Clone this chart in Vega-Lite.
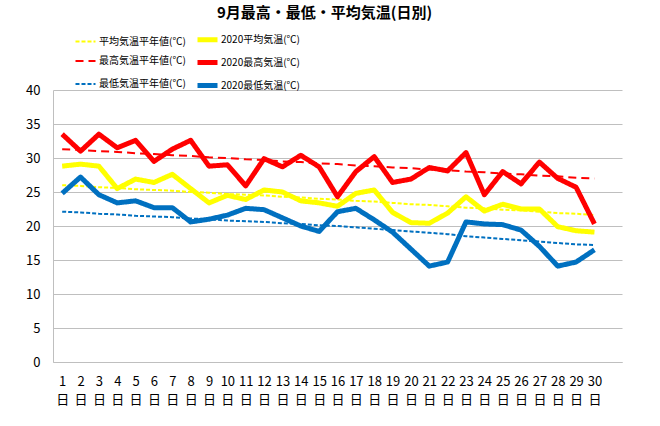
{
  "$schema": "https://vega.github.io/schema/vega-lite/v6.json",
  "width": 569,
  "height": 272,
  "autosize": {"type": "none"},
  "padding": {"left": 53, "top": 90, "right": 38, "bottom": 64},
  "background": "white",
  "config": {
    "view": {"stroke": null},
    "font": "Noto Sans CJK JP"
  },
  "title": {
    "text": "9月最高・最低・平均気温(日別)",
    "anchor": "middle",
    "dx": -13,
    "offset": 6,
    "fontSize": 15,
    "fontWeight": "bold",
    "font": "Noto Sans CJK JP",
    "color": "#000000"
  },
  "data": {
    "values": [
      {"day": 1, "series": "平均気温平年値(℃)", "temp": 26.0},
      {"day": 2, "series": "平均気温平年値(℃)", "temp": 25.9},
      {"day": 3, "series": "平均気温平年値(℃)", "temp": 25.7},
      {"day": 4, "series": "平均気温平年値(℃)", "temp": 25.6},
      {"day": 5, "series": "平均気温平年値(℃)", "temp": 25.4},
      {"day": 6, "series": "平均気温平年値(℃)", "temp": 25.3},
      {"day": 7, "series": "平均気温平年値(℃)", "temp": 25.2},
      {"day": 8, "series": "平均気温平年値(℃)", "temp": 25.0},
      {"day": 9, "series": "平均気温平年値(℃)", "temp": 24.9},
      {"day": 10, "series": "平均気温平年値(℃)", "temp": 24.7},
      {"day": 11, "series": "平均気温平年値(℃)", "temp": 24.6},
      {"day": 12, "series": "平均気温平年値(℃)", "temp": 24.5},
      {"day": 13, "series": "平均気温平年値(℃)", "temp": 24.3},
      {"day": 14, "series": "平均気温平年値(℃)", "temp": 24.2},
      {"day": 15, "series": "平均気温平年値(℃)", "temp": 24.0},
      {"day": 16, "series": "平均気温平年値(℃)", "temp": 23.9},
      {"day": 17, "series": "平均気温平年値(℃)", "temp": 23.7},
      {"day": 18, "series": "平均気温平年値(℃)", "temp": 23.6},
      {"day": 19, "series": "平均気温平年値(℃)", "temp": 23.4},
      {"day": 20, "series": "平均気温平年値(℃)", "temp": 23.2},
      {"day": 21, "series": "平均気温平年値(℃)", "temp": 23.1},
      {"day": 22, "series": "平均気温平年値(℃)", "temp": 22.9},
      {"day": 23, "series": "平均気温平年値(℃)", "temp": 22.7},
      {"day": 24, "series": "平均気温平年値(℃)", "temp": 22.6},
      {"day": 25, "series": "平均気温平年値(℃)", "temp": 22.4},
      {"day": 26, "series": "平均気温平年値(℃)", "temp": 22.3},
      {"day": 27, "series": "平均気温平年値(℃)", "temp": 22.1},
      {"day": 28, "series": "平均気温平年値(℃)", "temp": 21.9},
      {"day": 29, "series": "平均気温平年値(℃)", "temp": 21.8},
      {"day": 30, "series": "平均気温平年値(℃)", "temp": 21.6},
      {"day": 1, "series": "2020平均気温(℃)", "temp": 28.8},
      {"day": 2, "series": "2020平均気温(℃)", "temp": 29.1},
      {"day": 3, "series": "2020平均気温(℃)", "temp": 28.8},
      {"day": 4, "series": "2020平均気温(℃)", "temp": 25.5},
      {"day": 5, "series": "2020平均気温(℃)", "temp": 26.9},
      {"day": 6, "series": "2020平均気温(℃)", "temp": 26.4},
      {"day": 7, "series": "2020平均気温(℃)", "temp": 27.6},
      {"day": 8, "series": "2020平均気温(℃)", "temp": 25.5},
      {"day": 9, "series": "2020平均気温(℃)", "temp": 23.4},
      {"day": 10, "series": "2020平均気温(℃)", "temp": 24.5},
      {"day": 11, "series": "2020平均気温(℃)", "temp": 23.9},
      {"day": 12, "series": "2020平均気温(℃)", "temp": 25.3},
      {"day": 13, "series": "2020平均気温(℃)", "temp": 25.0},
      {"day": 14, "series": "2020平均気温(℃)", "temp": 23.7},
      {"day": 15, "series": "2020平均気温(℃)", "temp": 23.4},
      {"day": 16, "series": "2020平均気温(℃)", "temp": 22.9},
      {"day": 17, "series": "2020平均気温(℃)", "temp": 24.8},
      {"day": 18, "series": "2020平均気温(℃)", "temp": 25.3},
      {"day": 19, "series": "2020平均気温(℃)", "temp": 22.0},
      {"day": 20, "series": "2020平均気温(℃)", "temp": 20.5},
      {"day": 21, "series": "2020平均気温(℃)", "temp": 20.4},
      {"day": 22, "series": "2020平均気温(℃)", "temp": 21.9},
      {"day": 23, "series": "2020平均気温(℃)", "temp": 24.3},
      {"day": 24, "series": "2020平均気温(℃)", "temp": 22.2},
      {"day": 25, "series": "2020平均気温(℃)", "temp": 23.2},
      {"day": 26, "series": "2020平均気温(℃)", "temp": 22.5},
      {"day": 27, "series": "2020平均気温(℃)", "temp": 22.5},
      {"day": 28, "series": "2020平均気温(℃)", "temp": 19.9},
      {"day": 29, "series": "2020平均気温(℃)", "temp": 19.3},
      {"day": 30, "series": "2020平均気温(℃)", "temp": 19.1},
      {"day": 1, "series": "最高気温平年値(℃)", "temp": 31.3},
      {"day": 2, "series": "最高気温平年値(℃)", "temp": 31.2},
      {"day": 3, "series": "最高気温平年値(℃)", "temp": 31.0},
      {"day": 4, "series": "最高気温平年値(℃)", "temp": 30.9},
      {"day": 5, "series": "最高気温平年値(℃)", "temp": 30.7},
      {"day": 6, "series": "最高気温平年値(℃)", "temp": 30.6},
      {"day": 7, "series": "最高気温平年値(℃)", "temp": 30.4},
      {"day": 8, "series": "最高気温平年値(℃)", "temp": 30.3},
      {"day": 9, "series": "最高気温平年値(℃)", "temp": 30.1},
      {"day": 10, "series": "最高気温平年値(℃)", "temp": 30.0},
      {"day": 11, "series": "最高気温平年値(℃)", "temp": 29.8},
      {"day": 12, "series": "最高気温平年値(℃)", "temp": 29.7},
      {"day": 13, "series": "最高気温平年値(℃)", "temp": 29.5},
      {"day": 14, "series": "最高気温平年値(℃)", "temp": 29.4},
      {"day": 15, "series": "最高気温平年値(℃)", "temp": 29.2},
      {"day": 16, "series": "最高気温平年値(℃)", "temp": 29.1},
      {"day": 17, "series": "最高気温平年値(℃)", "temp": 28.9},
      {"day": 18, "series": "最高気温平年値(℃)", "temp": 28.8},
      {"day": 19, "series": "最高気温平年値(℃)", "temp": 28.6},
      {"day": 20, "series": "最高気温平年値(℃)", "temp": 28.5},
      {"day": 21, "series": "最高気温平年値(℃)", "temp": 28.3},
      {"day": 22, "series": "最高気温平年値(℃)", "temp": 28.2},
      {"day": 23, "series": "最高気温平年値(℃)", "temp": 28.0},
      {"day": 24, "series": "最高気温平年値(℃)", "temp": 27.9},
      {"day": 25, "series": "最高気温平年値(℃)", "temp": 27.7},
      {"day": 26, "series": "最高気温平年値(℃)", "temp": 27.6},
      {"day": 27, "series": "最高気温平年値(℃)", "temp": 27.4},
      {"day": 28, "series": "最高気温平年値(℃)", "temp": 27.3},
      {"day": 29, "series": "最高気温平年値(℃)", "temp": 27.1},
      {"day": 30, "series": "最高気温平年値(℃)", "temp": 27.0},
      {"day": 1, "series": "2020最高気温(℃)", "temp": 33.5},
      {"day": 2, "series": "2020最高気温(℃)", "temp": 31.0},
      {"day": 3, "series": "2020最高気温(℃)", "temp": 33.5},
      {"day": 4, "series": "2020最高気温(℃)", "temp": 31.5},
      {"day": 5, "series": "2020最高気温(℃)", "temp": 32.6},
      {"day": 6, "series": "2020最高気温(℃)", "temp": 29.5},
      {"day": 7, "series": "2020最高気温(℃)", "temp": 31.3},
      {"day": 8, "series": "2020最高気温(℃)", "temp": 32.6},
      {"day": 9, "series": "2020最高気温(℃)", "temp": 28.8},
      {"day": 10, "series": "2020最高気温(℃)", "temp": 29.0},
      {"day": 11, "series": "2020最高気温(℃)", "temp": 25.9},
      {"day": 12, "series": "2020最高気温(℃)", "temp": 29.9},
      {"day": 13, "series": "2020最高気温(℃)", "temp": 28.7},
      {"day": 14, "series": "2020最高気温(℃)", "temp": 30.4},
      {"day": 15, "series": "2020最高気温(℃)", "temp": 28.7},
      {"day": 16, "series": "2020最高気温(℃)", "temp": 24.3},
      {"day": 17, "series": "2020最高気温(℃)", "temp": 28.0},
      {"day": 18, "series": "2020最高気温(℃)", "temp": 30.2},
      {"day": 19, "series": "2020最高気温(℃)", "temp": 26.4},
      {"day": 20, "series": "2020最高気温(℃)", "temp": 26.9},
      {"day": 21, "series": "2020最高気温(℃)", "temp": 28.6},
      {"day": 22, "series": "2020最高気温(℃)", "temp": 28.1},
      {"day": 23, "series": "2020最高気温(℃)", "temp": 30.8},
      {"day": 24, "series": "2020最高気温(℃)", "temp": 24.6},
      {"day": 25, "series": "2020最高気温(℃)", "temp": 28.0},
      {"day": 26, "series": "2020最高気温(℃)", "temp": 26.2},
      {"day": 27, "series": "2020最高気温(℃)", "temp": 29.4},
      {"day": 28, "series": "2020最高気温(℃)", "temp": 27.0},
      {"day": 29, "series": "2020最高気温(℃)", "temp": 25.7},
      {"day": 30, "series": "2020最高気温(℃)", "temp": 20.3},
      {"day": 1, "series": "最低気温平年値(℃)", "temp": 22.1},
      {"day": 2, "series": "最低気温平年値(℃)", "temp": 22.0},
      {"day": 3, "series": "最低気温平年値(℃)", "temp": 21.8},
      {"day": 4, "series": "最低気温平年値(℃)", "temp": 21.7},
      {"day": 5, "series": "最低気温平年値(℃)", "temp": 21.5},
      {"day": 6, "series": "最低気温平年値(℃)", "temp": 21.4},
      {"day": 7, "series": "最低気温平年値(℃)", "temp": 21.3},
      {"day": 8, "series": "最低気温平年値(℃)", "temp": 21.1},
      {"day": 9, "series": "最低気温平年値(℃)", "temp": 21.0},
      {"day": 10, "series": "最低気温平年値(℃)", "temp": 20.8},
      {"day": 11, "series": "最低気温平年値(℃)", "temp": 20.7},
      {"day": 12, "series": "最低気温平年値(℃)", "temp": 20.6},
      {"day": 13, "series": "最低気温平年値(℃)", "temp": 20.4},
      {"day": 14, "series": "最低気温平年値(℃)", "temp": 20.3},
      {"day": 15, "series": "最低気温平年値(℃)", "temp": 20.1},
      {"day": 16, "series": "最低気温平年値(℃)", "temp": 20.0},
      {"day": 17, "series": "最低気温平年値(℃)", "temp": 19.8},
      {"day": 18, "series": "最低気温平年値(℃)", "temp": 19.6},
      {"day": 19, "series": "最低気温平年値(℃)", "temp": 19.4},
      {"day": 20, "series": "最低気温平年値(℃)", "temp": 19.2},
      {"day": 21, "series": "最低気温平年値(℃)", "temp": 19.0},
      {"day": 22, "series": "最低気温平年値(℃)", "temp": 18.8},
      {"day": 23, "series": "最低気温平年値(℃)", "temp": 18.5},
      {"day": 24, "series": "最低気温平年値(℃)", "temp": 18.3},
      {"day": 25, "series": "最低気温平年値(℃)", "temp": 18.1},
      {"day": 26, "series": "最低気温平年値(℃)", "temp": 17.9},
      {"day": 27, "series": "最低気温平年値(℃)", "temp": 17.7},
      {"day": 28, "series": "最低気温平年値(℃)", "temp": 17.5},
      {"day": 29, "series": "最低気温平年値(℃)", "temp": 17.3},
      {"day": 30, "series": "最低気温平年値(℃)", "temp": 17.2},
      {"day": 1, "series": "2020最低気温(℃)", "temp": 24.8},
      {"day": 2, "series": "2020最低気温(℃)", "temp": 27.2},
      {"day": 3, "series": "2020最低気温(℃)", "temp": 24.6},
      {"day": 4, "series": "2020最低気温(℃)", "temp": 23.4},
      {"day": 5, "series": "2020最低気温(℃)", "temp": 23.7},
      {"day": 6, "series": "2020最低気温(℃)", "temp": 22.7},
      {"day": 7, "series": "2020最低気温(℃)", "temp": 22.7},
      {"day": 8, "series": "2020最低気温(℃)", "temp": 20.6},
      {"day": 9, "series": "2020最低気温(℃)", "temp": 21.0},
      {"day": 10, "series": "2020最低気温(℃)", "temp": 21.6},
      {"day": 11, "series": "2020最低気温(℃)", "temp": 22.6},
      {"day": 12, "series": "2020最低気温(℃)", "temp": 22.4},
      {"day": 13, "series": "2020最低気温(℃)", "temp": 21.2},
      {"day": 14, "series": "2020最低気温(℃)", "temp": 20.0},
      {"day": 15, "series": "2020最低気温(℃)", "temp": 19.2},
      {"day": 16, "series": "2020最低気温(℃)", "temp": 22.1},
      {"day": 17, "series": "2020最低気温(℃)", "temp": 22.6},
      {"day": 18, "series": "2020最低気温(℃)", "temp": 20.9},
      {"day": 19, "series": "2020最低気温(℃)", "temp": 19.1},
      {"day": 20, "series": "2020最低気温(℃)", "temp": 16.6},
      {"day": 21, "series": "2020最低気温(℃)", "temp": 14.1},
      {"day": 22, "series": "2020最低気温(℃)", "temp": 14.7},
      {"day": 23, "series": "2020最低気温(℃)", "temp": 20.6},
      {"day": 24, "series": "2020最低気温(℃)", "temp": 20.3},
      {"day": 25, "series": "2020最低気温(℃)", "temp": 20.2},
      {"day": 26, "series": "2020最低気温(℃)", "temp": 19.4},
      {"day": 27, "series": "2020最低気温(℃)", "temp": 17.0},
      {"day": 28, "series": "2020最低気温(℃)", "temp": 14.1},
      {"day": 29, "series": "2020最低気温(℃)", "temp": 14.7},
      {"day": 30, "series": "2020最低気温(℃)", "temp": 16.5}
    ]
  },
  "mark": {"type": "line", "strokeCap": "butt", "strokeJoin": "round"},
  "encoding": {
    "x": {
      "field": "day",
      "type": "quantitative",
      "scale": {"domain": [0.5, 31.5], "nice": false, "zero": false},
      "axis": {
        "title": null,
        "values": [1,2,3,4,5,6,7,8,9,10,11,12,13,14,15,16,17,18,19,20,21,22,23,24,25,26,27,28,29,30],
        "labelExpr": "[datum.label, '日']",
        "grid": false,
        "ticks": false,
        "domainColor": "#BFBFBF",
        "labelFont": "Noto Sans CJK JP",
        "labelFontSize": 13,
        "labelColor": "#000000",
        "labelLineHeight": 18,
        "labelPadding": 13,
        "labelOverlap": false,
        "labelFlush": false
      }
    },
    "y": {
      "field": "temp",
      "type": "quantitative",
      "scale": {"domain": [0, 40], "nice": false},
      "axis": {
        "title": null,
        "values": [0, 5, 10, 15, 20, 25, 30, 35, 40],
        "grid": true,
        "gridColor": "#BFBFBF",
        "ticks": false,
        "domainColor": "#BFBFBF",
        "labelFont": "Noto Sans CJK JP",
        "labelFontSize": 13,
        "labelColor": "#000000",
        "labelPadding": 13
      }
    },
    "color": {
      "field": "series",
      "type": "nominal",
      "scale": {
        "domain": ["平均気温平年値(℃)", "最高気温平年値(℃)", "最低気温平年値(℃)", "2020平均気温(℃)", "2020最高気温(℃)", "2020最低気温(℃)"],
        "range": ["#FFFF00", "#FF0000", "#0070C0", "#FFFF00", "#FF0000", "#0070C0"]
      },
      "legend": {
        "orient": "none",
        "legendX": 20,
        "legendY": -63,
        "columns": 2,
        "title": null,
        "padding": 0,
        "symbolType": "stroke",
        "symbolSize": 400,
        "labelFont": "Noto Sans CJK JP",
        "labelFontSize": 10,
        "labelColor": "#000000",
        "labelOffset": 1,
        "columnPadding": 1,
        "rowPadding": -1.5,
        "labelLimit": 200
      }
    },
    "strokeDash": {
      "field": "series",
      "type": "nominal",
      "scale": {
        "domain": ["平均気温平年値(℃)", "最高気温平年値(℃)", "最低気温平年値(℃)", "2020平均気温(℃)", "2020最高気温(℃)", "2020最低気温(℃)"],
        "range": [[4, 2], [8, 5], [4, 2], [1, 0], [1, 0], [1, 0]]
      }
    },
    "strokeWidth": {
      "field": "series",
      "type": "nominal",
      "scale": {
        "type": "ordinal",
        "domain": ["平均気温平年値(℃)", "最高気温平年値(℃)", "最低気温平年値(℃)", "2020平均気温(℃)", "2020最高気温(℃)", "2020最低気温(℃)"],
        "range": [2, 2, 2, 5, 5, 5]
      }
    }
  }
}
